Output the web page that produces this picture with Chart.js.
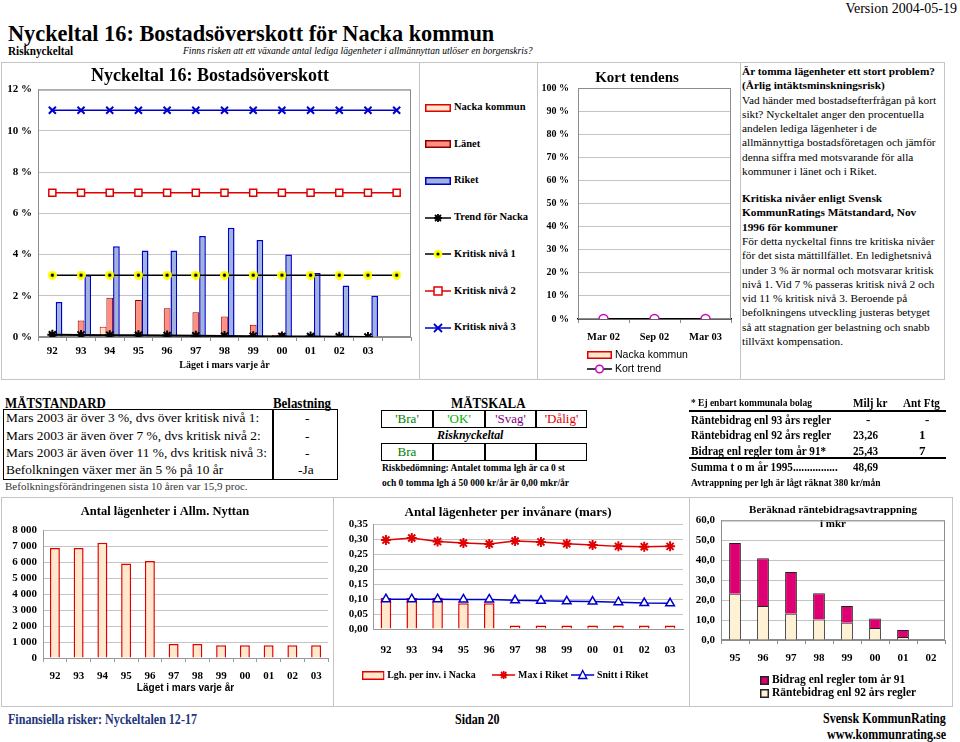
<!DOCTYPE html>
<html>
<head>
<meta charset="utf-8">
<script src="https://cdn.jsdelivr.net/npm/chart.js@4.4.1/dist/chart.umd.min.js"></script>
<style>
  body { margin: 0; background: #fff; }
  #page { position: relative; width: 960px; height: 742px; overflow: hidden; font-family: 'Liberation Serif', serif; color: #000; }
  .t { position: absolute; white-space: nowrap; line-height: 1; transform-origin: 0 50%; }
  .b { font-weight: bold; }
  .c { transform: scaleX(.86); }
  .ln { position: absolute; background: #c4c4c4; }
  .blk { position: absolute; background: #000; }
  canvas { position: absolute; }
  .cell { position: absolute; text-align: center; line-height: 17px; font-size: 13px; }
  #txt { position: absolute; left: 742px; top: 64px; font-size: 11.3px; line-height: 14.3px; white-space: nowrap; }
  .leg { position: absolute; white-space: nowrap; font-weight: bold; font-size: 10.5px; line-height: 12px; transform-origin: 0 50%; }
  .leg svg { vertical-align: middle; margin-right: 3px; }
</style>
</head>
<body>
<div id="page">
  <!-- header -->
  <div class="t" style="right:3px;top:2px;font-size:14px;">Version 2004-05-19</div>
  <div class="t b" style="left:8px;top:21px;font-size:24px;transform:scaleX(.93)">Nyckeltal 16: Bostadsöverskott för Nacka kommun</div>
  <div class="t b c" style="left:8px;top:44px;font-size:13px;">Risknyckeltal</div>
  <div class="t" style="left:183px;top:46px;font-size:10px;font-style:italic;transform:scaleX(.96)">Finns risken att ett växande antal lediga lägenheter i allmännyttan utlöser en borgenskris?</div>

  <!-- frames -->
  <div class="ln" style="left:1px;top:62px;width:944px;height:1px"></div>
  <div class="ln" style="left:1px;top:379px;width:944px;height:1px"></div>
  <div class="ln" style="left:1px;top:62px;width:1px;height:318px"></div>
  <div class="ln" style="left:419px;top:62px;width:1px;height:318px"></div>
  <div class="ln" style="left:537px;top:62px;width:1px;height:318px"></div>
  <div class="ln" style="left:740px;top:62px;width:1px;height:318px"></div>
  <div class="ln" style="left:944px;top:62px;width:1px;height:318px"></div>

  <div class="ln" style="left:1px;top:497px;width:952px;height:1px"></div>
  <div class="ln" style="left:1px;top:706px;width:952px;height:1px"></div>
  <div class="ln" style="left:1px;top:497px;width:1px;height:210px"></div>
  <div class="ln" style="left:333px;top:497px;width:1px;height:210px"></div>
  <div class="ln" style="left:689px;top:497px;width:1px;height:210px"></div>
  <div class="ln" style="left:952px;top:497px;width:1px;height:210px"></div>

  <canvas id="mainChart" width="416" height="312" style="left:2px;top:64px"></canvas>
  <div id="mainLegend"></div>
  <canvas id="kortChart" width="198" height="290" style="left:539px;top:64px"></canvas>
  <div id="kortLegend"></div>

  <div id="txt">
    <b>Är tomma lägenheter ett stort problem?<br>(Årlig intäktsminskningsrisk)</b><br>
    Vad händer med bostadsefterfrågan på kort<br>
    sikt? Nyckeltalet anger den procentuella<br>
    andelen lediga lägenheter i de<br>
    allmännyttiga bostadsföretagen och jämför<br>
    denna siffra med motsvarande för alla<br>
    kommuner i länet och i Riket.
    <div style="margin-top:12.7px"><b>Kritiska nivåer enligt Svensk<br>KommunRatings Mätstandard, Nov<br>1996 för kommuner</b><br>
    För detta nyckeltal finns tre kritiska nivåer<br>
    för det sista mättillfället. En ledighetsnivå<br>
    under 3 % är normal och motsvarar kritisk<br>
    nivå 1. Vid 7 % passeras kritisk nivå 2 och<br>
    vid 11 % kritisk nivå 3. Beroende på<br>
    befolkningens utveckling justeras betyget<br>
    så att stagnation ger belastning och snabb<br>
    tillväxt kompensation.</div>
  </div>

  <!-- MÄTSTANDARD -->
  <div class="t b c" style="left:5px;top:396px;font-size:15px;">MÄTSTANDARD</div>
  <div class="t b c" style="left:273px;top:396px;font-size:15px;">Belastning</div>
  <div style="position:absolute;left:3px;top:409px;width:335px;height:71px;border:1.5px solid #000;box-sizing:border-box"></div>
  <div class="blk" style="left:272px;top:409px;width:1.5px;height:71px"></div>
  <div class="t" style="left:6px;top:411px;font-size:13.4px;">Mars 2003 är över 3 %, dvs över kritisk nivå 1:</div>
  <div class="t" style="left:6px;top:429px;font-size:13.4px;">Mars 2003 är även över 7 %, dvs kritisk nivå 2:</div>
  <div class="t" style="left:6px;top:446px;font-size:13.4px;">Mars 2003 är även över 11 %, dvs kritisk nivå 3:</div>
  <div class="t" style="left:6px;top:463px;font-size:13.4px;">Befolkningen växer mer än 5 % på 10 år</div>
  <div class="t" style="left:305px;top:411px;font-size:13.4px;">-</div>
  <div class="t" style="left:305px;top:429px;font-size:13.4px;">-</div>
  <div class="t" style="left:305px;top:446px;font-size:13.4px;">-</div>
  <div class="t" style="left:298px;top:463px;font-size:13.4px;">-Ja</div>
  <div class="t" style="left:5px;top:481px;font-size:11px;color:#333">Befolkningsförändringenen sista 10 åren var 15,9 proc.</div>

  <!-- MÄTSKALA -->
  <div class="t b c" style="left:451px;top:396px;font-size:15px;">MÄTSKALA</div>
  <div style="position:absolute;left:381px;top:410px;width:206px;height:18px;border:1.5px solid #000;box-sizing:border-box"></div>
  <div class="blk" style="left:432px;top:410px;width:1.5px;height:18px"></div>
  <div class="blk" style="left:484px;top:410px;width:1.5px;height:18px"></div>
  <div class="blk" style="left:535px;top:410px;width:1.5px;height:18px"></div>
  <div class="cell" style="left:381px;top:410px;width:52px;color:#008000">'Bra'</div>
  <div class="cell" style="left:433px;top:410px;width:52px;color:#00b000">'OK'</div>
  <div class="cell" style="left:485px;top:410px;width:51px;color:#800080">'Svag'</div>
  <div class="cell" style="left:536px;top:410px;width:51px;color:#e00000">'Dålig'</div>
  <div class="t b" style="left:437px;top:428px;font-size:13px;font-style:italic;transform:scaleX(.92)">Risknyckeltal</div>
  <div style="position:absolute;left:381px;top:443px;width:206px;height:18px;border:1.5px solid #000;box-sizing:border-box"></div>
  <div class="blk" style="left:432px;top:443px;width:1.5px;height:18px"></div>
  <div class="blk" style="left:484px;top:443px;width:1.5px;height:18px"></div>
  <div class="blk" style="left:535px;top:443px;width:1.5px;height:18px"></div>
  <div class="cell" style="left:381px;top:443px;width:52px;color:#008000">Bra</div>
  <div class="t b c" style="left:382px;top:462px;font-size:11px;">Riskbedömning: Antalet tomma lgh är ca 0 st</div>
  <div class="t b c" style="left:382px;top:477px;font-size:11px;">och 0 tomma lgh á 50 000 kr/år är 0,00 mkr/år</div>

  <!-- Räntebidrag table -->
  <div class="t b c" style="left:691px;top:397px;font-size:11px;">* Ej enbart kommunala bolag</div>
  <div class="t b c" style="left:853px;top:396px;font-size:13px;">Milj kr</div>
  <div class="t b c" style="left:903px;top:396px;font-size:13px;">Ant Ftg</div>
  <div class="blk" style="left:689px;top:410px;width:257px;height:1.5px"></div>
  <div class="t b c" style="left:691px;top:413px;font-size:13px;">Räntebidrag enl 93 års regler</div>
  <div class="t b c" style="left:691px;top:428px;font-size:13px;">Räntebidrag enl 92 års regler</div>
  <div class="t b c" style="left:691px;top:444px;font-size:13px;">Bidrag enl regler tom år 91*</div>
  <div class="t b" style="left:866px;top:413px;font-size:13px;">-</div>
  <div class="t b c" style="left:853px;top:428px;font-size:13px;">23,26</div>
  <div class="t b c" style="left:853px;top:444px;font-size:13px;">25,43</div>
  <div class="t b" style="left:925px;top:413px;font-size:13px;">-</div>
  <div class="t b" style="left:919px;top:428px;font-size:13px;">1</div>
  <div class="t b" style="left:919px;top:444px;font-size:13px;">7</div>
  <div class="blk" style="left:689px;top:457px;width:257px;height:1.5px"></div>
  <div class="t b c" style="left:691px;top:460px;font-size:13px;">Summa t o m år 1995................</div>
  <div class="t b c" style="left:853px;top:460px;font-size:13px;">48,69</div>
  <div class="t b c" style="left:691px;top:477px;font-size:11px;">Avtrappning per lgh är lågt räknat 380 kr/mån</div>

  <!-- bottom charts -->
  <canvas id="allmChart" width="406" height="196" style="left:2px;top:502px"></canvas>
  <canvas id="invChart" width="357" height="152" style="left:333px;top:502px"></canvas>
  <div id="invLegend"></div>
  <canvas id="rbChart" width="265" height="165" style="left:690px;top:502px"></canvas>
  <div id="rbLegend"></div>

  <!-- footer -->
  <div class="t b c" style="left:8px;top:713px;font-size:14px;color:#22367a">Finansiella risker: Nyckeltalen 12-17</div>
  <div class="t b c" style="left:455px;top:713px;font-size:14px;">Sidan 20</div>
  <div class="t b c" style="left:823px;top:712px;font-size:14px;">Svensk KommunRating</div>
  <div class="t b c" style="left:827px;top:728px;font-size:14px;">www.kommunrating.se</div>
</div>

<script>
// ---- data ----------------------------------------------------------------
const years = ['92', '93', '94', '95', '96', '97', '98', '99', '00', '01', '02', '03'];
const mainLabels = ['92', '93', '94', '95', '96', '97', '98', '99', '00', '01', '02', '03', ''];

// lediga lägenheter, procent
const nackaVakans = [0, 0, 0.5, 0, 0, 0, 0.05, 0, 0.1, 0, 0, 0];
const lanetVakans = [0.2, 0.8, 1.9, 1.8, 1.4, 1.2, 1.0, 0.6, 0.2, 0, 0, 0];
const riketVakans = [1.7, 3.0, 4.4, 4.2, 4.2, 4.9, 5.3, 4.7, 4.0, 3.1, 2.5, 2.0];
const trendNacka = [0.11, 0.10, 0.09, 0.08, 0.07, 0.06, 0.05, 0.04, 0.03, 0.02, 0.01, 0.0, null];
const kritisk1 = [3, 3, 3, 3, 3, 3, 3, 3, 3, 3, 3, 3, 3];
const kritisk2 = [7, 7, 7, 7, 7, 7, 7, 7, 7, 7, 7, 7, 7];
const kritisk3 = [11, 11, 11, 11, 11, 11, 11, 11, 11, 11, 11, 11, 11];

// kort tendens
const kortLabels = ['Mar 02', 'Sep 02', 'Mar 03'];
const kortNacka = [0, 0, 0];
const kortTrend = [0, 0, 0];

// antal lägenheter i allmännyttan
const allmLgh = [6870, 6870, 7200, 5910, 6060, 880, 880, 790, 790, 790, 790, 790];

// lägenheter per invånare
const lghPerInv = [0.105, 0.104, 0.105, 0.086, 0.086, 0.012, 0.012, 0.012, 0.012, 0.012, 0.012, 0.012];
const maxRiket = [0.298, 0.305, 0.293, 0.288, 0.285, 0.295, 0.292, 0.286, 0.282, 0.277, 0.276, 0.277];
const snittRiket = [0.100, 0.100, 0.100, 0.099, 0.099, 0.096, 0.095, 0.093, 0.092, 0.090, 0.087, 0.086];

// räntebidragsavtrappning, mkr
const rbYears = ['95', '96', '97', '98', '99', '00', '01', '02'];
const rb92 = [23.26, 17.0, 13.2, 10.3, 8.6, 6.0, 1.5, 0];
const rb91 = [25.43, 24.0, 20.9, 13.2, 8.5, 4.8, 3.5, 0];

// ---- colours -------------------------------------------------------------
const peach = '#ffe8cc', red = '#e00000', salmon = '#ff8f80', darkRed = '#8a0000';
const lightBlue = '#9fb3dc', blue = '#0000cc', magenta = '#cc00cc', pink = '#dc0073';
const grid = '#c4c4c4';

Chart.defaults.font.family = "'Liberation Serif', serif";
Chart.defaults.font.weight = 'bold';
Chart.defaults.font.size = 11;
Chart.defaults.color = '#000';
Chart.defaults.animation = false;
Chart.defaults.responsive = false;
Chart.defaults.plugins.legend.display = false;
Chart.defaults.plugins.tooltip.enabled = false;

// frame round the plot area
const frame = {
  id: 'frame',
  beforeDatasetsDraw(chart, args, opts) {
    if (!opts.color) return;
    const a = chart.chartArea, ctx = chart.ctx;
    ctx.save();
    ctx.strokeStyle = opts.color;
    ctx.lineWidth = 1;
    ctx.strokeRect(a.left + 0.5, a.top + 0.5, a.width - 1, a.height - 1);
    ctx.restore();
  }
};
Chart.register(frame);

const fixW = w => s => { s.width = w; };
const fixH = h => s => { s.height = h; };

// yellow dot with black centre
function dotMarker() {
  const c = document.createElement('canvas');
  c.width = c.height = 9;
  const x = c.getContext('2d');
  x.fillStyle = '#ffff00';
  x.beginPath(); x.arc(4.5, 4.5, 4.5, 0, Math.PI * 2); x.fill();
  x.fillStyle = '#000';
  x.beginPath(); x.arc(4.5, 4.5, 1.7, 0, Math.PI * 2); x.fill();
  return c;
}

// ---- main chart ----------------------------------------------------------
new Chart(document.getElementById('mainChart'), {
  type: 'bar',
  data: {
    labels: mainLabels,
    datasets: [
      { label: 'Nacka kommun', data: nackaVakans, backgroundColor: peach, borderColor: red, borderWidth: 1, order: 1 },
      { label: 'Länet', data: lanetVakans, backgroundColor: salmon, borderColor: darkRed, borderWidth: 1, order: 1 },
      { label: 'Riket', data: riketVakans, backgroundColor: lightBlue, borderColor: blue, borderWidth: 1.5, order: 1 },
      { type: 'line', label: 'Trend för Nacka', data: trendNacka, borderColor: '#000', borderWidth: 2,
        pointStyle: 'star', pointRadius: 5, pointBorderColor: '#000', pointBorderWidth: 2, order: 0 },
      { type: 'line', label: 'Kritisk nivå 1', data: kritisk1, borderColor: '#000', borderWidth: 1.5,
        pointStyle: dotMarker(), order: 0 },
      { type: 'line', label: 'Kritisk nivå 2', data: kritisk2, borderColor: red, borderWidth: 1.5,
        pointStyle: 'rect', pointRadius: 5, pointBackgroundColor: '#fff', pointBorderColor: red, pointBorderWidth: 1.5, order: 0 },
      { type: 'line', label: 'Kritisk nivå 3', data: kritisk3, borderColor: blue, borderWidth: 1.5,
        pointStyle: 'crossRot', pointRadius: 5, pointBorderColor: blue, pointBorderWidth: 2, order: 0 }
    ]
  },
  options: {
    categoryPercentage: 0.7,
    barPercentage: 1,
    layout: { padding: 0 },
    plugins: {
      title: { display: true, text: 'Nyckeltal 16: Bostadsöverskott', font: { size: 18 }, padding: { top: 2, bottom: 2 } },
      frame: { color: '#8c8c8c' }
    },
    scales: {
      y: {
        min: 0, max: 12,
        ticks: { stepSize: 2, padding: 6, autoSkip: false, callback: v => v + ' %' },
        grid: { color: grid, drawTicks: false },
        border: { color: '#8c8c8c' },
        afterFit: fixW(36)
      },
      x: {
        ticks: { autoSkip: false, maxRotation: 0, padding: 4 },
        grid: { drawOnChartArea: false, tickLength: 4, color: '#8c8c8c' },
        border: { color: '#8c8c8c' },
        title: { display: true, text: 'Läget i mars varje år', font: { size: 10 }, padding: { top: 0, bottom: 5 } },
        afterFit: fixH(39)
      }
    }
  }
});

// ---- kort tendens --------------------------------------------------------
new Chart(document.getElementById('kortChart'), {
  type: 'bar',
  data: {
    labels: kortLabels,
    datasets: [
      { label: 'Nacka kommun', data: kortNacka, backgroundColor: peach, borderColor: red, borderWidth: 1, order: 1 },
      { type: 'line', label: 'Kort trend', data: kortTrend, borderColor: '#000', borderWidth: 2,
        pointStyle: 'circle', pointRadius: 4.5, pointBackgroundColor: '#fff', pointBorderColor: magenta, pointBorderWidth: 1.5, order: 0 }
    ]
  },
  options: {
    layout: { padding: { right: 2 } },
    plugins: {
      title: { display: true, text: 'Kort tendens', font: { size: 15 }, padding: { top: 5, bottom: 1 } },
      frame: { color: '#8c8c8c' }
    },
    scales: {
      y: {
        min: 0, max: 1,
        ticks: { stepSize: 0.1, padding: 9, autoSkip: false, callback: v => Math.round(v * 100) + ' %', font: { size: 10 } },
        grid: { color: grid, drawTicks: false },
        border: { color: '#8c8c8c' },
        afterFit: fixW(39)
      },
      x: {
        ticks: { padding: 8, font: { size: 10.5 } },
        grid: { drawOnChartArea: false, tickLength: 4, color: '#8c8c8c' },
        border: { color: '#000', width: 1.5 },
        afterFit: fixH(35)
      }
    }
  }
});

// ---- antal lägenheter i allmännyttan -------------------------------------
new Chart(document.getElementById('allmChart'), {
  type: 'bar',
  data: {
    labels: years,
    datasets: [{ label: 'Antal lägenheter', data: allmLgh, backgroundColor: peach, borderColor: red, borderWidth: 1.5 }]
  },
  options: {
    categoryPercentage: 1,
    barPercentage: 0.42,
    layout: { padding: { right: 80 } },
    plugins: {
      title: { display: true, text: 'Antal lägenheter i Allm. Nyttan', font: { size: 12.5 }, padding: { top: 2, bottom: 11 } }
    },
    scales: {
      y: {
        min: 0, max: 8000,
        ticks: { stepSize: 1000, padding: 6, autoSkip: false, callback: v => v === 0 ? '0' : (v / 1000) + ' 000' },
        grid: { color: grid, drawTicks: false },
        border: { color: '#9a9a9a' },
        afterFit: fixW(41)
      },
      x: {
        ticks: { padding: 8 },
        grid: { drawOnChartArea: false, tickLength: 4, color: '#9a9a9a' },
        border: { color: '#9a9a9a' },
        title: { display: true, text: 'Läget i mars varje år', font: { family: "'Liberation Sans', sans-serif", size: 10 }, padding: { top: 0, bottom: 4 } },
        afterFit: fixH(40)
      }
    }
  }
});

// ---- lägenheter per invånare ---------------------------------------------
new Chart(document.getElementById('invChart'), {
  type: 'bar',
  data: {
    labels: years,
    datasets: [
      { label: 'Lgh. per inv. i Nacka', data: lghPerInv, backgroundColor: peach, borderColor: red, borderWidth: 1.5, order: 1 },
      { type: 'line', label: 'Max i Riket', data: maxRiket, borderColor: red, borderWidth: 1.5,
        pointStyle: 'star', pointRadius: 5, pointBorderColor: red, pointBorderWidth: 2, order: 0 },
      { type: 'line', label: 'Snitt i Riket', data: snittRiket, borderColor: blue, borderWidth: 1.5,
        pointStyle: 'triangle', pointRadius: 5, pointBackgroundColor: '#fff', pointBorderColor: blue, pointBorderWidth: 1.5, order: 0 }
    ]
  },
  options: {
    categoryPercentage: 1,
    barPercentage: 0.41,
    layout: { padding: { right: 7 } },
    plugins: {
      title: { display: true, text: 'Antal lägenheter per invånare (mars)', font: { size: 13 }, padding: { top: 3, bottom: 4 } }
    },
    scales: {
      y: {
        min: 0, max: 0.35,
        ticks: { stepSize: 0.05, padding: 5, autoSkip: false, font: { size: 11 }, callback: v => v.toFixed(2).replace('.', ',') },
        grid: { color: grid, drawTicks: false },
        border: { color: '#9a9a9a' },
        afterFit: fixW(40)
      },
      x: {
        ticks: { padding: 7 },
        grid: { display: false },
        border: { color: '#9a9a9a' },
        afterFit: fixH(25)
      }
    }
  }
});

// ---- räntebidragsavtrappning ---------------------------------------------
new Chart(document.getElementById('rbChart'), {
  type: 'bar',
  data: {
    labels: rbYears,
    datasets: [
      { label: 'Räntebidrag enl 92 års regler', data: rb92, backgroundColor: '#fff2d4', borderColor: '#222', borderWidth: 1 },
      { label: 'Bidrag enl regler tom år 91', data: rb91, backgroundColor: pink, borderColor: '#222', borderWidth: 1 }
    ]
  },
  options: {
    categoryPercentage: 1,
    barPercentage: 0.42,
    layout: { padding: { right: 10 } },
    plugins: {
      title: { display: true, fullSize: false, text: ['Beräknad räntebidragsavtrappning', 'i mkr'], font: { size: 11 }, padding: { top: 2, bottom: -10 } },
      frame: { color: '#8c8c8c' }
    },
    scales: {
      y: {
        stacked: true, min: 0, max: 60,
        ticks: { stepSize: 10, padding: 6, autoSkip: false, callback: v => v.toFixed(1).replace('.', ',') },
        grid: { color: grid, drawTicks: false },
        border: { color: '#8c8c8c' },
        afterFit: fixW(31)
      },
      x: {
        stacked: true,
        ticks: { padding: 8 },
        grid: { drawOnChartArea: false, tickLength: 4, color: '#8c8c8c' },
        border: { color: '#8c8c8c' },
        afterFit: fixH(27)
      }
    }
  }
});

// ---- legends (html) ------------------------------------------------------
function svgBox(fill, stroke, w, h) {
  return `<svg width="${w}" height="${h}"><rect x="0.75" y="0.75" width="${w - 1.5}" height="${h - 1.5}" fill="${fill}" stroke="${stroke}" stroke-width="1.5"/></svg>`;
}
function svgLine(color, marker, w) {
  const cx = w / 2, cy = 6;
  let m = '';
  if (marker === 'star') {
    m = `<path d="M${cx - 4} ${cy}H${cx + 4}M${cx} ${cy - 4}V${cy + 4}M${cx - 3} ${cy - 3}L${cx + 3} ${cy + 3}M${cx - 3} ${cy + 3}L${cx + 3} ${cy - 3}" stroke="${color}" stroke-width="1.8"/>`;
  } else if (marker === 'dot') {
    m = `<circle cx="${cx}" cy="${cy}" r="4.3" fill="#ffff00"/><circle cx="${cx}" cy="${cy}" r="1.6" fill="#000"/>`;
  } else if (marker === 'rect') {
    m = `<rect x="${cx - 4}" y="${cy - 4}" width="8" height="8" fill="#fff" stroke="${color}" stroke-width="1.5"/>`;
  } else if (marker === 'cross') {
    m = `<path d="M${cx - 4} ${cy - 4}L${cx + 4} ${cy + 4}M${cx - 4} ${cy + 4}L${cx + 4} ${cy - 4}" stroke="${color}" stroke-width="1.8"/>`;
  } else if (marker === 'circle') {
    m = `<circle cx="${cx}" cy="${cy}" r="3.8" fill="#fff" stroke="${magenta}" stroke-width="1.5"/>`;
  } else if (marker === 'triangle') {
    m = `<path d="M${cx} ${cy - 4.5}L${cx + 4.5} ${cy + 3.5}L${cx - 4.5} ${cy + 3.5}Z" fill="#fff" stroke="${color}" stroke-width="1.5"/>`;
  }
  return `<svg width="${w}" height="12"><line x1="0" y1="${cy}" x2="${w}" y2="${cy}" stroke="${color}" stroke-width="1.5"/>${m}</svg>`;
}
function legendItem(parent, x, y, icon, text, style) {
  const d = document.createElement('div');
  d.className = 'leg';
  d.style.left = x + 'px';
  d.style.top = (y - 6) + 'px';
  if (style) Object.assign(d.style, style);
  d.innerHTML = icon + text;
  document.getElementById(parent).appendChild(d);
}

const mainItems = [
  [svgBox(peach, red, 26, 8), 'Nacka kommun'],
  [svgBox(salmon, darkRed, 26, 8), 'Länet'],
  [svgBox(lightBlue, blue, 26, 8), 'Riket'],
  [svgLine('#000', 'star', 26), 'Trend för Nacka'],
  [svgLine('#000', 'dot', 26), 'Kritisk nivå 1'],
  [svgLine(red, 'rect', 26), 'Kritisk nivå 2'],
  [svgLine(blue, 'cross', 26), 'Kritisk nivå 3']
];
mainItems.forEach((it, i) => legendItem('mainLegend', 425, 107 + i * 36.7, it[0], it[1]));

const sans = { fontFamily: "'Liberation Sans', sans-serif", fontWeight: 'normal', fontSize: '10.5px' };
legendItem('kortLegend', 587, 354, svgBox(peach, red, 25, 8), 'Nacka kommun', sans);
legendItem('kortLegend', 587, 368, svgLine('#000', 'circle', 25), 'Kort trend', sans);

const small = { fontSize: '11px', transform: 'scaleX(.9)' };
legendItem('invLegend', 362, 674, svgBox(peach, red, 25, 9), 'Lgh. per inv. i Nacka', small);
legendItem('invLegend', 492, 674, svgLine(red, 'star', 26), 'Max i Riket', small);
legendItem('invLegend', 571, 674, svgLine(blue, 'triangle', 26), 'Snitt i Riket', small);

legendItem('rbLegend', 760, 679, svgBox(pink, '#222', 9, 9), 'Bidrag enl regler tom år 91', { fontSize: '11.5px' });
legendItem('rbLegend', 760, 692, svgBox('#fff2d4', '#222', 9, 9), 'Räntebidrag enl 92 års regler', { fontSize: '11.5px' });
</script>
</body>
</html>
